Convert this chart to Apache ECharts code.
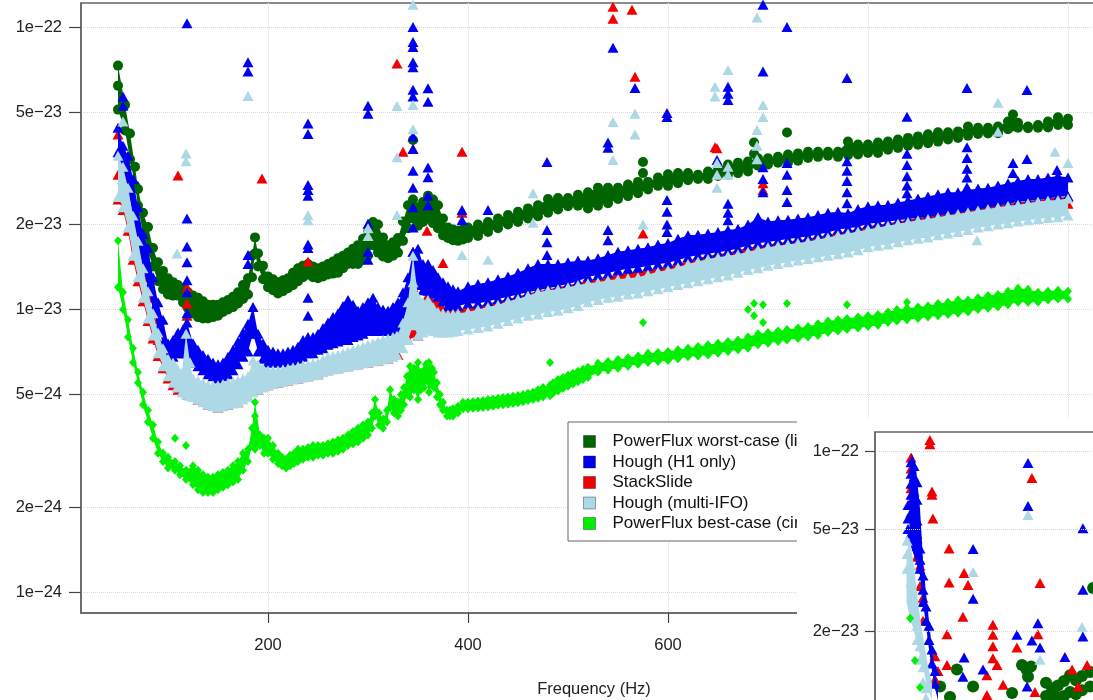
<!DOCTYPE html>
<html><head><meta charset="utf-8">
<script src="https://cdn.jsdelivr.net/npm/echarts@6/dist/echarts.min.js"></script>
<style>html,body{margin:0;padding:0;background:#fff}#c{width:1093px;height:700px}</style>
</head><body><div id="c"></div>
<script>
// Strain values are stored in units of 1e-24; tick labels give the full value.
const seriesNames = ['PowerFlux worst-case (linear)', 'Hough (H1 only)', 'StackSlide', 'Hough (multi-IFO)', 'PowerFlux best-case (circular)'];
const yTickValues = [1, 2, 5, 10, 20, 50, 100];
const yTickLabels = ['1e\u221224', '2e\u221224', '5e\u221224', '1e\u221223', '2e\u221223', '5e\u221223', '1e\u221222'];
const xTickValues = [200, 400, 600, 800, 1000];
const insetTickValues = [10, 20, 50, 100];
const insetTickLabels = ['1e\u221223', '2e\u221223', '5e\u221223', '1e\u221222'];

// Dense bands of points: [frequency (Hz), upper row, lower row]
const worstBand = [[50,73,51],[57,53,43],[62,42,34],[67,32,27.5],[70,26.7,23.3],[75,22,18.5],[80,19.6,16],[85,16.5,14.2],[90,14.7,12.6],[95,13.7,11.8],[100,12.9,11.3],[105,12.5,11.2],[110,12.2,11.2],[115,11.8,10.6],[120,11.5,10.1],[125,11.2,9.7],[130,11,9.4],[135,10.7,9.3],[140,10.4,9.3],[145,10.4,9.4],[150,10.4,9.5],[155,10.6,9.8],[160,10.8,10],[165,11.1,10.2],[170,11.5,10.5],[175,12.2,10.9],[180,12.9,11.3],[184,15.5,13],[187,18,15.8],[190,15.8,14.2],[195,14.3,12.8],[200,13.1,12],[205,12.8,11.7],[210,12.5,11.4],[215,12.7,11.6],[220,12.9,11.9],[225,13.5,12.2],[230,14,12.6],[235,14.3,13],[240,14.5,13.3],[245,14.2,13],[250,14,12.9],[255,14.2,13.1],[260,14.5,13.3],[265,14.8,13.4],[270,15.2,13.5],[275,15.5,14],[280,15.9,14.5],[285,16.4,14.5],[290,16.9,14.5],[295,17.8,15],[300,18.8,15.5],[305,20.4,16.9],[310,20,15.9],[315,18,15.4],[320,16.9,15.2],[325,17.3,15.5],[330,17.9,15.9],[335,20.5,17.5],[340,23.4,19.4],[345,24.5,21],[350,23,19.8],[355,24,20.4],[360,25.3,21],[365,24.5,20.2],[370,23.4,19.4],[375,21,18.3],[380,19.5,17.9],[385,19.2,17.6],[390,19,17.5],[395,19.2,17.7],[400,19.5,17.9],[410,20,18.2],[420,20.4,18.8],[430,21,19.4],[440,21.6,20],[450,22.2,20.4],[460,22.8,21],[470,23.4,21.4],[480,24.6,22],[490,24.8,22.6],[500,24.8,23.2],[510,25.5,23.3],[520,26,22.8],[530,27,23.3],[540,27,23.8],[550,27,24.6],[560,27.7,25.2],[570,28.3,25.8],[580,28.3,26.6],[590,29.3,27.4],[600,30.1,27.4],[610,30.4,28],[620,30.4,28.7],[630,30,29],[640,30.8,29],[650,31.8,29.7],[660,32.6,30],[670,33.1,30.4],[680,33.4,30.8],[690,34.3,32.3],[700,34.3,32.6],[710,34.7,33.1],[720,35.4,33.1],[730,35.7,33.6],[740,36.2,34.4],[750,36.2,34.7],[760,36.2,35],[770,36.2,34.7],[780,39.3,35.2],[790,38.4,35.4],[800,38.4,35.8],[810,39,35.8],[820,39.3,36.8],[830,40,37.3],[840,40.5,38],[850,41,38.3],[860,41.7,38.8],[870,42.4,39.3],[880,42.4,40],[890,42.7,40.5],[900,44.4,41.2],[910,44,41.8],[920,44,42],[930,44.4,42.1],[940,46.3,43.5],[945,49,44.5],[950,45.8,44],[960,44.4,43.8],[970,45,44],[980,46.3,44.1],[990,47.9,45],[1000,47.3,45]];
const h1Band = [[50,44,36],[55,38,29],[60,35,27],[65,29,21],[70,23,17],[75,18.5,14],[80,16.5,12],[85,13,10],[90,10.6,8.6],[95,9.2,7.6],[100,7.6,6.6],[105,7.8,6.8],[110,8.3,7],[115,8.5,7],[119,9,7],[125,7.6,6.5],[130,7.2,6.3],[135,6.9,6.1],[140,6.7,5.9],[145,6.5,5.8],[150,6.4,5.7],[155,6.5,5.8],[160,6.8,5.9],[165,7.2,6.1],[170,7.7,6.4],[175,8.3,6.8],[180,8.9,7.1],[185,10.2,8.2],[190,8.2,7.1],[195,7.6,6.7],[200,7.2,6.5],[205,7.1,6.5],[210,7,6.5],[215,7,6.5],[220,7.1,6.6],[225,7.2,6.6],[230,7.4,6.7],[235,7.8,6.8],[240,8,7],[245,8,7],[250,8.2,7.2],[255,8.6,7.3],[260,9,7.5],[265,9.4,7.6],[270,9.7,7.7],[275,10.3,7.8],[280,10.8,7.8],[285,10.4,8],[290,9.9,8.1],[295,10.2,8.2],[300,10.6,8.4],[305,11,8.4],[310,10.2,8.4],[315,10,8.4],[320,9.9,8.4],[325,10.2,8.5],[330,10.6,8.6],[335,11.5,9.2],[340,13,10.2],[345,16,13],[350,16.4,12.2],[355,14.5,11.7],[360,14.5,11.65],[365,13.8,11.4],[370,13,11.1],[375,12.5,10.7],[380,12.1,10.3],[385,11.8,10.3],[390,11.6,10.3],[400,12.1,10.5],[410,12.3,10.5],[420,12.5,10.7],[430,12.8,10.9],[440,13.1,11.1],[450,13.5,11.3],[460,14,11.5],[470,14.5,11.7],[480,14.5,11.9],[490,14.5,12.1],[500,14.7,12.3],[510,14.9,12.58],[520,14.9,13.05],[530,15.2,13.25],[540,15.6,13.45],[550,16,13.75],[560,16.2,13.95],[570,16.4,14.05],[580,16.6,14.25],[590,17,14.45],[600,17.2,14.65],[610,17.8,14.95],[620,18.3,15.35],[630,18.4,15.55],[640,18.6,15.75],[650,18.8,15.95],[660,19.1,16.15],[670,19.3,16.45],[680,20,16.9],[690,21.2,17.15],[700,20.5,17.35],[710,20.7,17.55],[720,20.8,17.75],[730,21,17.95],[740,21.2,18.15],[750,21.6,18.45],[760,22,18.75],[770,22.2,19.2],[780,21.9,19.4],[790,22.7,19.6],[800,23.2,20.1],[810,23.4,20.3],[820,23.5,20.5],[830,23.9,20.7],[840,24.3,20.9],[850,24.7,21.1],[860,25.1,21.3],[870,25.6,21.5],[880,26,21.7],[890,26,21.9],[900,26.5,22.3],[910,26.8,22.6],[920,27,22.9],[930,27.5,23.3],[940,28,23.7],[950,28.5,24],[960,29,24.2],[970,29,24.4],[980,29.3,24.7],[990,29.7,25],[1000,29.3,25.2]];
const stackBand = [[50,30,24.5],[55,27,22.5],[60,25,19],[65,19,15],[70,16,12.6],[75,13,10.7],[80,11,9.1],[85,9.2,7.9],[90,7.8,6.85],[95,6.9,6.2],[100,6.3,5.7],[105,6.1,5.4],[110,5.7,5.2],[120,5.4,5],[130,5.35,4.8],[140,5.2,4.6],[150,5.2,4.5],[160,5.3,4.6],[170,5.4,4.7],[180,5.6,4.9],[190,6.1,5.2],[200,5.85,5.4],[210,5.85,5.5],[220,5.95,5.6],[230,6.05,5.7],[240,6.15,5.8],[250,6.25,5.9],[260,6.5,6.1],[270,6.6,6.2],[280,6.8,6.3],[290,7,6.4],[300,7.2,6.5],[310,7.4,6.6],[320,7.6,6.7],[330,7.8,6.9],[340,9.5,7.8],[350,10.5,8.1],[360,11.2,10.4],[370,10.7,9.4],[380,10,9.2],[390,10,9.3],[400,10.2,9.4],[410,10.3,9.6],[420,10.5,9.8],[430,10.7,10],[440,10.9,10.3],[450,11.1,10.5],[460,11.4,10.8],[470,11.6,11],[480,11.8,11.2],[490,12,11.3],[500,12.2,11.5],[510,12.4,11.7],[520,12.7,11.9],[530,12.9,12],[540,13.1,12.2],[550,13.3,12.3],[560,13.5,12.4],[570,13.6,12.5],[580,13.8,12.8],[590,14,13],[600,14.2,13.2],[610,14.5,13.5],[620,14.9,13.9],[630,15.2,14.2],[640,15.5,14.5],[650,15.7,14.7],[660,15.9,14.9],[670,16.2,15.1],[680,16.5,15.4],[690,16.8,15.6],[700,17,15.9],[710,17.2,16.1],[720,17.4,16.3],[730,17.6,16.5],[740,17.8,16.7],[750,18.1,17],[760,18.4,17.3],[770,18.7,17.6],[780,19,17.9],[790,19.3,18.1],[800,19.7,18.4],[810,20,18.7],[820,20.2,19],[830,20.5,19.3],[840,20.8,19.6],[850,21.1,19.9],[860,21.4,20.1],[870,21.6,20.4],[880,21.8,20.6],[890,22.1,20.9],[900,22.4,21.2],[910,22.7,21.5],[920,23,21.8],[930,23.4,22.1],[940,23.7,22.4],[950,23.9,22.6],[960,24.1,22.9],[970,24.4,23.1],[980,24.7,23.3],[990,24.9,23.5],[1000,25,23.7]];
const multiBand = [[50,35,25],[55,32,23],[60,27,19.5],[65,21.5,15.5],[70,17.5,13],[75,14,11],[80,11.6,9.3],[85,9.7,8.1],[90,8.3,7],[95,7.3,6.3],[100,6.7,5.8],[105,6.5,5.5],[109,6.2,5.3],[114,6,5.1],[118,8.2,5],[122,6.5,4.95],[125,5.7,4.9],[130,5.6,4.8],[135,5.5,4.7],[140,5.4,4.6],[145,5.4,4.55],[150,5.4,4.5],[155,5.45,4.55],[160,5.5,4.6],[165,5.55,4.65],[170,5.6,4.7],[175,5.7,4.8],[180,5.8,4.9],[185,6.6,5.1],[190,6.4,5.2],[195,6.2,5.3],[200,6.1,5.4],[205,6.1,5.45],[210,6.1,5.5],[215,6.15,5.55],[220,6.2,5.6],[225,6.25,5.65],[230,6.3,5.7],[235,6.35,5.75],[240,6.4,5.8],[245,6.45,5.85],[250,6.5,5.9],[255,6.65,6],[260,6.8,6.1],[265,6.85,6.15],[270,6.9,6.2],[275,7,6.25],[280,7.1,6.3],[285,7.2,6.35],[290,7.3,6.4],[295,7.4,6.45],[300,7.5,6.5],[305,7.6,6.55],[310,7.7,6.6],[315,7.8,6.65],[320,7.9,6.7],[325,8,6.8],[329,8.1,6.9],[335,9,7.3],[340,10.6,7.8],[345,15.5,8.8],[350,11.1,8.1],[355,10.6,8.3],[360,10.8,8.5],[365,10.2,8.4],[370,9.8,8.3],[375,9.7,8.3],[380,9.6,8.3],[385,9.65,8.35],[390,9.7,8.4],[400,9.8,8.5],[410,10,8.6],[420,10.2,8.7],[430,10.4,8.9],[440,10.7,9.1],[450,10.9,9.3],[460,11.2,9.5],[470,11.5,9.6],[480,11.7,9.8],[490,11.8,9.9],[500,12,10.1],[510,12.2,10.3],[520,12.4,10.6],[530,12.5,10.8],[540,12.7,11],[550,12.8,11.1],[560,12.9,11.3],[570,13,11.4],[580,13.3,11.6],[590,13.6,11.8],[600,13.8,12],[610,14.1,12.2],[620,14.5,12.4],[630,14.8,12.6],[640,15.1,12.8],[650,15.3,13],[660,15.5,13.2],[670,15.7,13.5],[680,16,13.8],[690,16.3,14],[700,16.6,14.3],[710,16.8,14.5],[720,17,14.7],[730,17.2,14.9],[740,17.4,15.1],[750,17.7,15.3],[760,18,15.5],[770,18.3,15.7],[780,18.6,15.9],[790,18.9,16.2],[800,19.2,16.6],[810,19.5,16.8],[820,19.8,17],[830,20.1,17.3],[840,20.4,17.6],[850,20.7,17.8],[860,20.9,18],[870,21.2,18.3],[880,21.5,18.6],[890,21.8,18.8],[900,22.1,19.1],[910,22.4,19.5],[920,22.7,19.7],[930,23,20],[940,23.3,20.2],[950,23.5,20.5],[960,23.8,20.7],[970,24.1,20.9],[980,24.3,21.1],[990,24.4,21.2],[1000,24.7,21.5]];
const bestBand = [[50,17.5,12],[55,11.5,10],[60,9.2,8],[65,7.3,6.5],[70,6,5.5],[75,5.1,4.6],[80,4.4,4],[85,3.9,3.5],[90,3.4,3.1],[95,3.1,2.9],[100,3,2.75],[107,2.9,2.7],[112,2.8,2.6],[118,2.7,2.5],[125,2.8,2.4],[130,2.7,2.3],[135,2.6,2.25],[140,2.55,2.25],[145,2.55,2.25],[150,2.6,2.3],[155,2.65,2.35],[160,2.7,2.4],[165,2.8,2.45],[170,2.9,2.5],[175,3.1,2.7],[180,3.2,2.9],[184,3.8,3.3],[187,4.7,3.2],[192,3.6,3.3],[196,3.5,3.1],[200,3.5,3.1],[205,3.3,2.95],[210,3.1,2.85],[214,3,2.8],[218,2.95,2.75],[222,3.05,2.8],[226,3.1,2.85],[230,3.2,2.9],[235,3.2,2.95],[240,3.25,3],[245,3.3,3],[250,3.3,3.05],[255,3.3,3.05],[260,3.35,3.1],[265,3.4,3.1],[270,3.45,3.15],[275,3.5,3.2],[280,3.6,3.3],[285,3.7,3.35],[290,3.8,3.4],[295,3.9,3.5],[300,4,3.6],[304,4.3,3.8],[307,4.8,4.2],[311,4.3,3.9],[315,4.1,3.8],[319,4.4,4],[322,5.2,4.5],[326,4.8,4.3],[330,4.7,4.2],[333,5,4.4],[336,5.3,4.6],[339,5.8,5],[342,6.3,4.9],[346,6.2,5.2],[350,6.5,4.8],[353,6,5.2],[356,6.1,5.3],[358,6.4,5.6],[361,6.5,5.1],[364,6.2,5.4],[366,6,5.3],[369,5.5,4.9],[372,5,4.6],[375,4.7,4.4],[379,4.4,4.2],[382,4.4,4.2],[385,4.45,4.2],[390,4.55,4.3],[395,4.7,4.45],[400,4.7,4.45],[405,4.72,4.47],[410,4.74,4.48],[415,4.76,4.5],[420,4.8,4.52],[425,4.82,4.55],[430,4.85,4.58],[435,4.88,4.6],[440,4.9,4.62],[445,4.93,4.65],[450,4.96,4.68],[455,5,4.72],[460,5.05,4.76],[465,5.1,4.8],[470,5.2,4.85],[475,5.3,4.9],[482,5.4,4.95],[485,5.5,5.05],[490,5.65,5.15],[495,5.75,5.25],[500,5.85,5.35],[505,5.95,5.45],[510,6.05,5.55],[515,6.15,5.65],[520,6.25,5.75],[530,6.45,6],[540,6.55,6.1],[550,6.65,6.2],[560,6.75,6.3],[570,6.85,6.4],[580,7,6.5],[590,7.05,6.55],[600,7.1,6.6],[610,7.2,6.7],[620,7.3,6.8],[630,7.4,6.85],[640,7.5,6.9],[650,7.6,7],[660,7.7,7.1],[670,7.8,7.2],[680,8,7.3],[690,8.2,7.5],[700,8.3,7.6],[710,8.4,7.7],[719,8.5,7.8],[730,8.6,7.9],[740,8.7,8],[750,8.9,8.1],[760,9.1,8.3],[770,9.2,8.4],[779,9.3,8.5],[790,9.4,8.6],[800,9.5,8.7],[810,9.6,8.8],[820,9.8,9],[829,10,9.1],[839,10.1,9.2],[850,10.2,9.3],[860,10.3,9.4],[870,10.5,9.5],[880,10.6,9.6],[890,10.8,9.7],[900,10.8,9.8],[910,11,10],[920,11.2,10.1],[930,11.3,10.2],[940,11.6,10.4],[950,11.9,10.6],[960,11.8,10.6],[970,11.5,10.6],[980,11.6,10.8],[990,11.7,10.9],[1000,11.6,10.9]];

// Individual points away from the bands: [frequency (Hz), values ...]
const worstPts = [[50,62],[345,39.8],[575,33.3,30.4],[686,39,35.6],[719,42.3]];
const h1Pts = [[55,56.8,52.6],[119,103,21,16.7,14.7,12.7,11.5,9.7],[180,75,69.6,15.6,14.5],[240,45.5,41.8,27.6,26.5,25.3,17,16.5,11,9.5],[300,52.6,49.3,20.1,16,15],[345,100,88.5,85,75,72,60,56.8,41,37,31,27,23,19.5],[360,60.7,54.4,31.8,29.4,25.3,23.4],[394,22.5,20.7],[420,22.5],[479,33.3,19.1,17.3,15.6],[540,39,37.4,19.1,17.6],[545,84.5],[567,60.8],[599,49.6,48,24.4,22.2,20,18.8],[649,33.8],[660,61.5,58,55.2,23.7,22,20.7],[695,120,69.6,31.9,29,26],[719,100,33,30,26.5,24],[779,66,33.5,31,28.5,26,23.8],[839,48.1,35.6,32.5,29.6,27.5,25.8],[899,60.8,37.5,34.4,31.5,29.3,27.1],[945,33,30.4],[959,59.8,34.1],[989,31.2]];
const stackPts = [[50,41.6],[110,29.8],[119,12,10.5,9.5],[194,29.1],[240,14.8],[329,74.3],[335,36.2],[345,37,16,12],[359,19,11],[375,14.6],[394,36.2,22],[545,118,107],[564,115],[567,66.6],[575,18.6],[647,37.5],[649,37.2],[695,28,26.5]];
const multiPts = [[55,46.3],[109,15.8],[118,35.7,33.5],[180,57],[240,21.6,20.7],[300,19.4,18.2],[329,52.5,34.6,21.6],[345,120,53,43.5,12.5],[394,15.6],[420,15],[465,25.8,20.3],[545,46.1,33.8],[567,49.3,41.6],[575,20],[647,61.5,56.8],[649,33,30,27],[660,70.4,32,30],[689,108,43.2,38,34],[695,53,48],[909,17.6],[930,53.9,42.6],[987,36.2],[1000,33]];
const bestPts = [[107,3.5],[118,3.3],[187,4.2,3.6],[342,5.6],[350,5.5],[361,5.8],[482,6.5],[575,9],[680,10],[686,10.5,9.5],[695,10.4,9],[719,10.5],[779,10.4],[839,10.6]];

// Inset panel (low-frequency close-up)
const insetH1Band = [[51.5,75,45],[52.2,98.8,42],[53.5,90,38],[55,60,33],[56,38,26],[57,28,21],[58,22,17],[59,17,14],[60,14,12],[61,12,10.8]];
const insetMultiBand = [[50.5,40,26],[51.5,45,23],[53,36,20],[54.5,25,17],[56,19,14.5],[57.5,15,12],[59,12.5,10.8]];
const insetWorst = [[61.7,12.2],[65,11.1],[67.3,14.2],[72.7,12.2],[85.7,11.5],[89,14.8],[90.5,14.2],[91,13.3],[92,14.6],[97,12.6,11.2],[99,12,11],[101,12.3,11.1],[103,12.8,11.2],[105,13.5,11.6],[107,12.9,11.4],[109,13.4,11.8],[111.7,13.9,12.2],[112.7,29.5]];
const insetH1 = [[51,62,55,50],[52,91,82,75,68,58,48],[53,88,80,70,60,52,45],[54,76,65,54,46],[55,42,38,35],[56,33,29,26],[57,25,22],[58,21,18.5],[59,17,15],[60,14,12.5],[69.3,13.3],[69.7,15.8],[72.7,41.8,26.8],[76,14.2],[87.3,19.4],[90.7,12.2],[91,90.4,61.5],[92.3,18.4],[94.3,21.5],[95,17.3],[103.3,15.9],[109.3,50.4,29,19.1]];
const insetStack = [[52,95,86,72,64],[53,68,57],[54,48,43,39],[55,36,30],[56,27,22],[58.3,111,107],[59,70,68],[59.3,55],[60,16,13],[61,14],[64,19.5,14.8],[64.7,42,31],[69.3,22.8],[69.7,33.7],[71,30.3],[77.3,13.5,11.3],[79.3,21.2,19.4,17.5,15.7],[80.7,14.8],[82.7,12.4],[87.3,17.3],[92.3,79],[93.3,11.6],[94.3,19.5],[95,30.8],[105.7,14.2],[107.7,12.2],[110.7,14.8]];
const insetMulti = [[50.7,45,40,35],[52,36,31],[53,25,22.5],[54,21,18.5],[55,17.5,15.5],[56,14.5,12.7],[57,12,11],[72.7,34],[91,56.7],[95,15.5],[109,20.8]];
const insetBest = [[51.7,22.5],[53.3,15.4],[55,12.1]];

const colors = {worst: '#006400', h1: '#0000F0', stack: '#F00000', multi: '#ADD8E6', best: '#00F000'};
const FONT = "'Liberation Sans', Arial, Helvetica, sans-serif";
const TRI = [11, 10];

function toPoints(rows) {
  const out = [];
  rows.forEach(r => { for (let i = 1; i < r.length; i++) out.push([r[0], r[i]]); });
  return out;
}
function labelFor(values, labels) {
  return v => {
    let best = 0, bd = Infinity;
    values.forEach((t, i) => { const d = Math.abs(Math.log(v / t)); if (d < bd) { bd = d; best = i; } });
    return labels[best];
  };
}
function scatter(name, rows, color, symbol, size, axisIdx, z) {
  return {
    name: name, type: 'scatter', data: toPoints(rows),
    xAxisIndex: axisIdx, yAxisIndex: axisIdx,
    symbol: symbol, symbolSize: size,
    itemStyle: {color: color, opacity: 1},
    z: z, animation: false, emphasis: {disabled: true}, clip: true, large: false, progressive: 0
  };
}
function band(name, rows, color, axisIdx, z) {
  return {
    name: name, type: 'custom', xAxisIndex: axisIdx, yAxisIndex: axisIdx, z: z,
    data: rows.map(r => [r[0], r[1], r[2]]),
    encode: {x: 0, y: [1, 2]},
    itemStyle: {color: color}, clip: true, animation: false, silent: true,
    renderItem: (params, api) => {
      if (params.dataIndex !== 0) return null;
      const top = rows.map(r => api.coord([r[0], r[1]]));
      const bot = rows.map(r => api.coord([r[0], r[2]])).reverse();
      return {type: 'polygon', shape: {points: top.concat(bot)}, style: {fill: color}};
    }
  };
}

const chart = echarts.init(document.getElementById('c'), null, {renderer: 'canvas'});
chart.setOption({
  animation: false,
  backgroundColor: '#fff',
  textStyle: {fontFamily: FONT},
  grid: [
    {left: 81, top: 3, width: 1026, height: 610, outerBoundsMode: 'none', containLabel: false, show: true, borderColor: '#666', borderWidth: 1.5, backgroundColor: '#fff', z: 0},
    {left: 875, top: 432, width: 300, height: 330, outerBoundsMode: 'none', containLabel: false, show: true, borderColor: '#666', borderWidth: 1.5, backgroundColor: '#fff', z: 120}
  ],
  xAxis: [
    {gridIndex: 0, type: 'value', min: 13, max: 1039,
     name: 'Frequency (Hz)', nameLocation: 'middle', nameGap: 68,
     nameTextStyle: {fontSize: 16.5, color: '#222', fontFamily: FONT},
     axisLine: {show: true, onZero: false, lineStyle: {color: '#666', width: 1.5}},
     axisTick: {show: true, length: 10, customValues: xTickValues, lineStyle: {color: '#444', width: 1.2}},
     axisLabel: {customValues: xTickValues, margin: 24, fontSize: 16.5, color: '#222', fontFamily: FONT},
     splitLine: {show: true, lineStyle: {type: 'dotted', color: '#d8d8d8', width: 1}}},
    {gridIndex: 1, type: 'value', min: 40, max: 140, z: 150,
     axisLine: {show: false}, axisTick: {show: false}, axisLabel: {show: false}, splitLine: {show: false}}
  ],
  yAxis: [
    {gridIndex: 0, type: 'log', logBase: 10, min: 0.843, max: 121.6,
     axisLine: {show: true, lineStyle: {color: '#666', width: 1.5}},
     axisTick: {show: true, length: 12, customValues: yTickValues, lineStyle: {color: '#444', width: 1.2}},
     axisLabel: {customValues: yTickValues, formatter: labelFor(yTickValues, yTickLabels), margin: 19, fontSize: 16.5, color: '#222', fontFamily: FONT},
     splitLine: {show: true, lineStyle: {type: 'dotted', color: '#d8d8d8', width: 1}}},
    {gridIndex: 1, type: 'log', logBase: 10, min: 6.2, max: 119.3, z: 150,
     axisLine: {show: true, lineStyle: {color: '#666', width: 1.5}},
     axisTick: {show: true, length: 10, customValues: insetTickValues, lineStyle: {color: '#444', width: 1.2}},
     axisLabel: {customValues: insetTickValues, formatter: labelFor(insetTickValues, insetTickLabels), margin: 16, fontSize: 16.5, color: '#222', fontFamily: FONT},
     splitLine: {show: true, lineStyle: {type: 'dotted', color: '#d8d8d8', width: 1}}}
  ],
  legend: {
    orient: 'vertical', left: 568, top: 422, z: 50,
    data: seriesNames,
    icon: 'rect', itemWidth: 12, itemHeight: 12, itemGap: 3.5,
    padding: [11, 60, 9, 15],
    borderColor: '#666', borderWidth: 1, backgroundColor: '#fff',
    itemStyle: {borderColor: 'rgba(0,0,0,0.35)', borderWidth: 1},
    textStyle: {fontSize: 17, lineHeight: 17, color: '#111', fontFamily: FONT, padding: [0, 0, 0, 12]}
  },
  graphic: {elements: [
    {type: 'rect', z: 100, shape: {x: 797, y: 418, width: 296, height: 282}, style: {fill: '#fff'}}
  ]},
  series: [
    band(seriesNames[0], worstBand, colors.worst, 0, 2),
    scatter(seriesNames[0], worstBand.concat(worstPts), colors.worst, 'circle', 10, 0, 3),
    band(seriesNames[2], stackBand, colors.stack, 0, 4),
    scatter(seriesNames[2], stackBand.concat(stackPts), colors.stack, 'triangle', TRI, 0, 5),
    band(seriesNames[1], h1Band, colors.h1, 0, 6),
    scatter(seriesNames[1], h1Band.concat(h1Pts), colors.h1, 'triangle', TRI, 0, 7),
    band(seriesNames[3], multiBand, colors.multi, 0, 8),
    scatter(seriesNames[3], multiBand.concat(multiPts), colors.multi, 'triangle', TRI, 0, 9),
    band(seriesNames[4], bestBand, colors.best, 0, 10),
    scatter(seriesNames[4], bestBand.concat(bestPts), colors.best, 'diamond', [8, 9], 0, 11),
    scatter(seriesNames[0], insetWorst, colors.worst, 'circle', 12, 1, 131),
    scatter(seriesNames[2], insetStack, colors.stack, 'triangle', TRI, 1, 132),
    band(seriesNames[1], insetH1Band, colors.h1, 1, 133),
    scatter(seriesNames[1], insetH1, colors.h1, 'triangle', TRI, 1, 134),
    band(seriesNames[3], insetMultiBand, colors.multi, 1, 135),
    scatter(seriesNames[3], insetMulti, colors.multi, 'triangle', TRI, 1, 136),
    scatter(seriesNames[4], insetBest, colors.best, 'diamond', [8, 9], 1, 137)
  ]
});
</script>
</body></html>
